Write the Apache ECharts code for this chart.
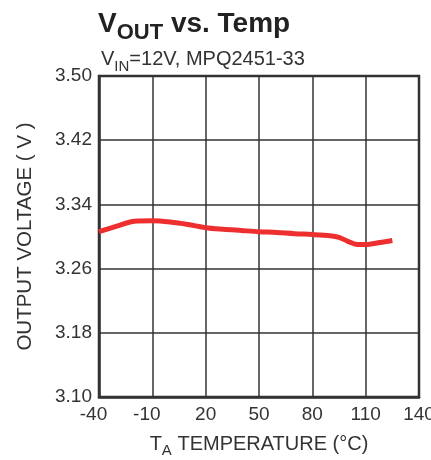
<!DOCTYPE html>
<html><head><meta charset="utf-8">
<script src="https://cdn.jsdelivr.net/npm/echarts@6/dist/echarts.min.js"></script>
<style>html,body{margin:0;padding:0;background:#fff}#c{width:431px;height:460px}</style>
</head><body><div id="c"></div>
<script>
var temps = [-40, -30, -20, -10, 0, 10, 20, 30, 40, 50, 60, 70, 80, 90, 95, 100, 105, 110, 118, 125];
var vout  = [3.306, 3.313, 3.319, 3.3195, 3.318, 3.315, 3.311, 3.309, 3.3075, 3.306, 3.305, 3.3035, 3.3025, 3.301, 3.299, 3.294, 3.290, 3.290, 3.2925, 3.295];
var xTicks = [-40, -10, 20, 50, 80, 110, 140];
var yTicks = ['3.10', '3.18', '3.26', '3.34', '3.42', '3.50'];

var F = '"Liberation Sans", Arial, sans-serif';
var chart = echarts.init(document.getElementById('c'));
chart.setOption({
  backgroundColor: '#fff',
  animation: false,
  title: [{
    text: '{v|V}{sub|OUT}{v| vs. Temp}',
    left: 93, top: 1,
    textStyle: {
      rich: {
        v: {fontFamily: F, fontSize: 28, fontWeight: 'bold', color: '#222', verticalAlign: 'bottom', lineHeight: 32},
        sub: {fontFamily: F, fontSize: 22, fontWeight: 'bold', color: '#222', verticalAlign: 'bottom', lineHeight: 26, padding: [0,0,-6,0]}
      }
    }
  }, {
    text: '{t|V}{s|IN}{t|=12V, MPQ2451-33}',
    left: 96, top: 42,
    textStyle: {
      fontWeight: 'normal',
      rich: {
        t: {fontFamily: F, fontSize: 20, fontWeight: 'normal', color: '#333', verticalAlign: 'bottom', lineHeight: 22},
        s: {fontFamily: F, fontSize: 15, fontWeight: 'normal', color: '#333', verticalAlign: 'bottom', lineHeight: 17, padding: [0,0,-5,0]}
      }
    }
  }],
  grid: {left: 99, right: 12, top: 76, bottom: 63, containLabel: false, outerBoundsMode: 'none',
         show: true, borderColor: '#333', borderWidth: 2.5},
  xAxis: {
    type: 'value', min: -40, max: 140, interval: 30,
    name: 'T{s|A} TEMPERATURE (°C)', nameLocation: 'middle', nameGap: 34,
    nameTextStyle: {fontFamily: F, fontSize: 20, color: '#333',
      rich: {s: {fontFamily: F, fontSize: 15, color: '#333', padding: [12,0,0,0]}}},
    axisLine: {show: true, onZero: false, lineStyle: {color: '#333', width: 2.5}},
    axisTick: {show: false},
    axisLabel: {fontFamily: F, fontSize: 19, color: '#333', margin: 8,
      rich: {n: {fontFamily: F, fontSize: 19, color: '#333', padding: [0, 11, 0, 0]}},
      formatter: function(v){
        if (xTicks.indexOf(v) < 0) return '';
        return v < 0 ? '{n|' + v + '}' : String(v);
      }},
    splitLine: {show: true, lineStyle: {color: '#333', width: 1.5}}
  },
  yAxis: {
    type: 'value', min: 3.10, max: 3.50, interval: 0.08,
    name: 'OUTPUT VOLTAGE ( V )', nameLocation: 'middle', nameGap: 63, nameRotate: 90,
    nameTextStyle: {fontFamily: F, fontSize: 20.5, color: '#333'},
    axisLine: {show: true, onZero: false, lineStyle: {color: '#333', width: 2.5}},
    axisTick: {show: false},
    axisLabel: {fontFamily: F, fontSize: 19, color: '#333', margin: 7,
      formatter: function(v){ var s = v.toFixed(2); return yTicks.indexOf(s) >= 0 ? s : ''; }},
    splitLine: {show: true, lineStyle: {color: '#333', width: 1.5}}
  },
  series: [{
    type: 'line', smooth: 0.3, symbol: 'none',
    data: temps.map(function(t, i){ return [t, vout[i]]; }),
    lineStyle: {color: '#ee2f2f', width: 5}
  }]
});
</script></body></html>
